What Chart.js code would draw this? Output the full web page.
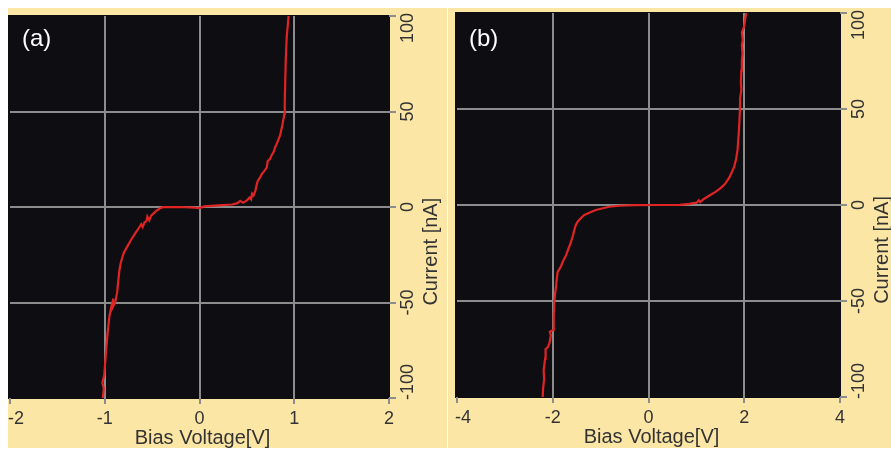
<!DOCTYPE html>
<html><head><meta charset="utf-8">
<script src="https://cdn.jsdelivr.net/npm/chart.js@4/dist/chart.umd.min.js"></script>
<style>
html,body{margin:0;padding:0;background:#fff;}
body{width:891px;height:449px;position:relative;overflow:hidden;}
.panel{position:absolute;background:#fce6a6;}
#pa{left:8px;top:8px;width:439px;height:440px;}
#pb{left:448px;top:8px;width:443px;height:440px;}
canvas{display:block;}
</style></head><body>
<div class="panel" id="pa"><canvas id="ca"></canvas></div>
<div class="panel" id="pb"><canvas id="cb"></canvas></div>
<script>
// Panel (a) I-V curve
const voltageA = [-1.02,-1.01,-1.025,-1.005,-0.99,-0.97,-0.95,-0.93,-0.91,-0.92,-0.89,-0.87,-0.86,-0.845,-0.83,-0.80,-0.76,-0.72,-0.67,-0.64,-0.615,-0.60,-0.58,-0.56,-0.55,-0.53,-0.51,-0.46,-0.42,-0.39,-0.2,-0.05,0,0.05,0.2,0.345,0.40,0.43,0.46,0.50,0.53,0.545,0.555,0.57,0.59,0.605,0.616,0.64,0.658,0.68,0.71,0.72,0.746,0.76,0.78,0.80,0.815,0.83,0.85,0.877,0.895,0.90,0.91,0.92,0.94];
const currentA = [-100,-95,-92,-88,-78,-66,-57,-52,-48,-53,-50,-45,-40,-33,-29,-24,-20.5,-17,-13.2,-11,-9,-10.5,-8,-7.5,-5,-7,-4.5,-2.2,-0.8,-0.1,0,-0.3,-0.6,0.3,0.8,1.3,2,3.2,2.2,3.5,5,4,7,6,8.6,12,13.8,15.5,17.3,18.5,20.8,24,25.2,27,28.6,31.5,33,35,37.3,43.4,48.6,55.6,76.5,88.6,100];
// Panel (b) I-V curve
const voltageB = [-2.21,-2.20,-2.18,-2.19,-2.16,-2.15,-2.10,-2.07,-2.04,-2.06,-1.99,-1.98,-1.97,-1.95,-1.93,-1.90,-1.83,-1.78,-1.72,-1.66,-1.62,-1.58,-1.55,-1.52,-1.48,-1.40,-1.34,-1.20,-1.10,-0.95,-0.82,-0.61,-0.3,0.3,0.65,0.85,1.006,1.05,1.08,1.15,1.29,1.40,1.50,1.60,1.68,1.74,1.79,1.83,1.86,1.89,1.91,1.915,1.94,1.93,1.94,1.95,1.965,1.95,1.97,1.95,2.0,2.02,2.04];
const currentB = [-100,-95,-91,-86,-80,-75,-74,-72,-68,-66,-65,-58,-51,-46,-42,-35,-32,-29,-26,-22,-19.4,-16,-13,-10.5,-8.7,-6.5,-5.2,-3.6,-2.6,-1.7,-0.9,-0.4,-0.1,0,0.1,0.6,1.2,2.5,1.5,3,5.2,6.8,8.7,11,14,17,20,24,28.7,39,49.6,55.7,60,64,70,75,79,83,86,90,93,97,100];

const xTicksA = [-2,-1,0,1,2];
const xTicksB = [-4,-2,0,2,4];
const yTicks = [-100,-50,0,50,100];
const panelLabels = ['(a)','(b)'];
const xTitle = 'Bias Voltage[V]';
const yTitle = 'Current [nA]';

const FONT = '"Liberation Sans", Arial, Helvetica, sans-serif';
const GRID = '#8c8c8c';
const TEXT = '#333333';

const decor = {
  id: 'decor',
  beforeDraw(chart) {
    const {ctx, chartArea: a} = chart;
    ctx.save();
    ctx.fillStyle = '#0e0e12';
    ctx.fillRect(a.left - 2, a.top - 1, a.right - a.left + 3, a.bottom - a.top + 2);
    ctx.restore();
  },
  afterDraw(chart, args, opts) {
    const {ctx, chartArea: a, scales: {x, y}} = chart;
    ctx.save();
    ctx.fillStyle = TEXT;
    ctx.font = '18px ' + FONT;
    ctx.textBaseline = 'middle';
    x.ticks.forEach(t => {
      const s = String(t.value);
      const w = ctx.measureText(s).width;
      let left = x.getPixelForValue(t.value) - w / 2;
      left = Math.max(left, a.left - 2);
      ctx.textAlign = 'left';
      ctx.fillText(s, left, a.bottom + 21);
    });
    y.ticks.forEach(t => {
      const s = String(t.value);
      const w = ctx.measureText(s).width;
      let c = y.getPixelForValue(t.value);
      c = Math.max(c, a.top - 3 + w / 2);
      c = Math.min(c, a.bottom + 2 - w / 2);
      ctx.save();
      ctx.translate(a.right + 19, c);
      ctx.rotate(-Math.PI / 2);
      ctx.textAlign = 'center';
      ctx.fillText(s, 0, 0);
      ctx.restore();
    });
    ctx.font = '20px ' + FONT;
    ctx.textAlign = 'center';
    ctx.textBaseline = 'alphabetic';
    ctx.fillText(xTitle, (a.left + a.right) / 2 + 3, a.bottom + 46);
    ctx.save();
    ctx.translate(a.right + 42, a.top + 0.617 * (a.bottom - a.top));
    ctx.rotate(-Math.PI / 2);
    ctx.textBaseline = 'middle';
    ctx.fillText(yTitle, 0, 0);
    ctx.restore();
    ctx.fillStyle = '#ffffff';
    ctx.font = '24px ' + FONT;
    ctx.textAlign = 'left';
    ctx.textBaseline = 'alphabetic';
    ctx.fillText(opts.label, a.left + 12, 37.5);
    ctx.restore();
  }
};

function makeChart(id, volts, currents, xTicks, label, geo) {
  const pts = volts.map((v, i) => ({x: v, y: currents[i]}));
  const xmin = xTicks[0], xmax = xTicks[xTicks.length - 1];
  const ymin = yTicks[0], ymax = yTicks[yTicks.length - 1];
  const gridColor = (lo, hi) => c => (c.tick && (c.tick.value === lo || c.tick.value === hi)) ? 'rgba(0,0,0,0)' : GRID;
  return new Chart(document.getElementById(id), {
    type: 'scatter',
    data: {datasets: [{
      data: pts, showLine: true, borderColor: '#e02424', borderWidth: 2.2,
      pointRadius: 0, tension: 0, fill: false
    }]},
    options: {
      responsive: true, maintainAspectRatio: false, animation: false,
      layout: {padding: {left: geo.padLeft, top: geo.padTop, right: 0, bottom: 0}},
      plugins: {legend: {display: false}, tooltip: {enabled: false}, decor: {label}},
      scales: {
        x: {
          type: 'linear', position: 'bottom', min: xmin, max: xmax,
          afterBuildTicks: s => { s.ticks = xTicks.map(v => ({value: v})); },
          afterFit: s => { s.height = geo.xH; },
          ticks: {display: false},
          border: {display: false},
          grid: {color: gridColor(xmin, xmax), lineWidth: 2, drawTicks: true, tickLength: 6, tickColor: GRID, tickWidth: 2}
        },
        y: {
          type: 'linear', position: 'right', min: ymin, max: ymax,
          afterBuildTicks: s => { s.ticks = yTicks.map(v => ({value: v})); },
          afterFit: s => { s.width = geo.yW; },
          ticks: {display: false},
          border: {display: false},
          grid: {color: gridColor(ymin, ymax), lineWidth: 2, drawTicks: true, tickLength: 7, tickColor: GRID, tickWidth: 2}
        }
      }
    },
    plugins: [decor]
  });
}

makeChart('ca', voltageA, currentA, xTicksA, panelLabels[0], {padLeft: 2, padTop: 8, yW: 58, xH: 50});
makeChart('cb', voltageB, currentB, xTicksB, panelLabels[1], {padLeft: 9, padTop: 5, yW: 51, xH: 51});
</script>
</body></html>
